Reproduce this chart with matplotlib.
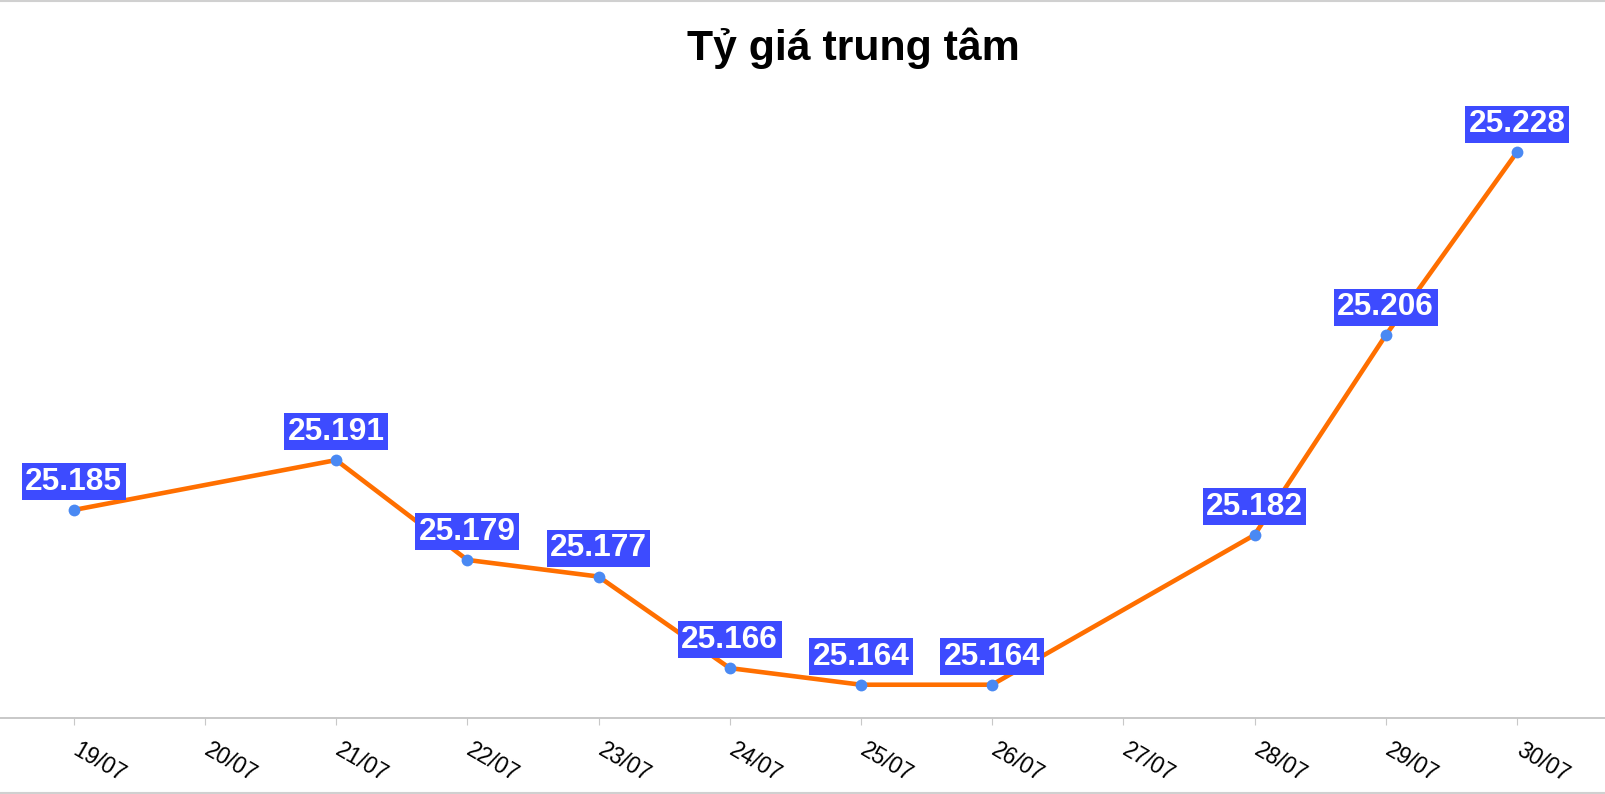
import matplotlib
matplotlib.use("Agg")
import matplotlib.pyplot as plt
from matplotlib.lines import Line2D
from matplotlib.transforms import ScaledTranslation

# Data: central exchange rate (VND/USD), no value on 20/07 and 27/07
dates = ["19/07", "20/07", "21/07", "22/07", "23/07", "24/07",
         "25/07", "26/07", "27/07", "28/07", "29/07", "30/07"]
rates = [25185, None, 25191, 25179, 25177, 25166,
         25164, 25164, None, 25182, 25206, 25228]
title = "Tỷ giá trung tâm"

plt.rcParams["font.family"] = ["Liberation Sans", "DejaVu Sans"]

W, H = 1606, 794
fig = plt.figure(figsize=(W / 100, H / 100), dpi=100)

# axes spans full width, x axis line at y=718 px
x0_px, x_step = 73.7, 131.2
y_axis_px, y_scale = 718, 8.32  # px per VND
ymin, ymax = 25160, 25235
ax_h = (ymax - ymin) * y_scale
ax = fig.add_axes([0, 1 - y_axis_px / H, 1, ax_h / H])
ax.set_xlim(-x0_px / x_step, (W - x0_px) / x_step)
ax.set_ylim(ymin, ymax)

xs = [i for i, v in enumerate(rates) if v is not None]
ys = [v for v in rates if v is not None]

ax.plot(xs, ys, color="#ff6f00", linewidth=3.3, zorder=2, solid_capstyle="round")
ax.plot(xs, ys, linestyle="none", marker="o", markersize=8.5,
        color="#4a89f3", markeredgewidth=0, zorder=3)

for x, v in zip(xs, ys):
    label = f"{v:,}".replace(",", ".")
    ax.annotate(label, (x, v), xytext=(0, 9.5), textcoords="offset points",
                ha="center", va="bottom", fontsize=22.8, fontweight="bold",
                color="white", zorder=4,
                bbox=dict(boxstyle="square,pad=0.11", fc="#3d4bff", ec="none"))

ax.set_xticks(range(len(dates)))
ax.set_xticklabels(dates, rotation=-30, ha="left", va="top",
                   rotation_mode="anchor", fontsize=16.3, color="black")
ax.tick_params(axis="x", direction="out", length=5, width=0.8,
               color="#c8c8c8", pad=10)
shift = ScaledTranslation(7 / 100, 0, fig.dpi_scale_trans)
for lbl in ax.get_xticklabels():
    lbl.set_transform(lbl.get_transform() + shift)
ax.set_yticks([])

for s in ["top", "left", "right"]:
    ax.spines[s].set_visible(False)
ax.spines["bottom"].set_color("#c4c4c4")
ax.spines["bottom"].set_linewidth(1.3)
ax.patch.set_alpha(0)

fig.text(853 / W, 1 - 48 / H, title, ha="center", va="center",
         fontsize=30.8, fontweight="bold", color="black")

# light frame lines at top and bottom
fig.add_artist(Line2D([0, 1], [1 - 0.8 / H, 1 - 0.8 / H], color="#d0d0d0", linewidth=1.5))
fig.add_artist(Line2D([0, 1], [1.2 / H, 1.2 / H], color="#d0d0d0", linewidth=1.5))

fig.savefig("out.png", dpi=100, facecolor="white")
